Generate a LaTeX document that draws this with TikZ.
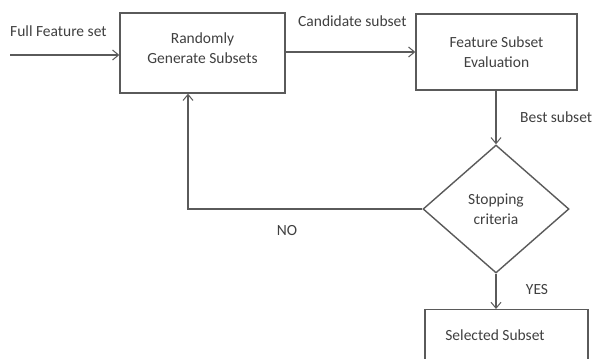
\documentclass[tikz,border=0pt]{standalone}
\usepackage{fontspec}
\setmainfont{Carlito}
\usetikzlibrary{arrows.meta,shapes.geometric}
\definecolor{ln}{HTML}{5A5A5A}
\definecolor{tx}{HTML}{404040}
\tikzset{
  box/.style={draw=ln,line width=1.4pt,minimum width=#1,inner sep=0pt,align=center,text=tx,font=\fontsize{15.5}{19.5}\selectfont},
  conn/.style={draw=ln,line width=1.4pt,-{Straight Barb[length=6pt,width=10pt,line width=1pt]}},
  lbl/.style={text=tx,font=\fontsize{15.5}{19}\selectfont,inner sep=0pt},
}
\begin{document}
\begin{tikzpicture}[x=1pt,y=-1pt]
\useasboundingbox (0,0) rectangle (593,358);
\clip (0,0) rectangle (593,358);
\fill[white] (0,0) rectangle (593,358);
\node[box=165pt,minimum height=80pt] (gen) at (202.5,53) {};
\node[lbl,align=center,font=\fontsize{15.5}{19.5}\selectfont] (gentxt) at (gen.center) [yshift=5pt] {Randomly\\Generate Subsets};
\node[box=161pt,minimum height=76pt] (eval) at (496.5,52) {Feature Subset\\Evaluation};
\node[draw=ln,line width=1.4pt,diamond,aspect=1.14,minimum width=146pt,minimum height=128pt,inner sep=0pt,align=center,text=tx,font=\fontsize{15.5}{19.5}\selectfont] (stop) at (496,209) {Stopping\\criteria};
\node[box=163pt,minimum height=80pt,anchor=north] (sel) at (506.5,309) {};
\node[lbl] (seltxt) at (495,335) {Selected Subset};
\coordinate (in) at (10,55);
\coordinate (corner) at (188,209);
\draw[conn] (in) -- (gen.west |- in);
\draw[conn] (gen.east |- eval.west) -- (eval.west);
\draw[conn] (eval.south -| stop.north) -- (stop.north);
\draw[conn] (stop.west) -- (corner) -- (corner |- gen.south);
\draw[conn] (stop.south) -- (stop.south |- sel.north);
\node[lbl,anchor=west] (l1) at (10,31) {Full Feature set};
\node[lbl,anchor=west] (l2) at (298,21) {Candidate subset};
\node[lbl,anchor=west] (l3) at (520,117) {Best subset};
\node[lbl] (l4) at (287,231) {NO};
\node[lbl] (l5) at (537,290) {YES};
\end{tikzpicture}
\end{document}
